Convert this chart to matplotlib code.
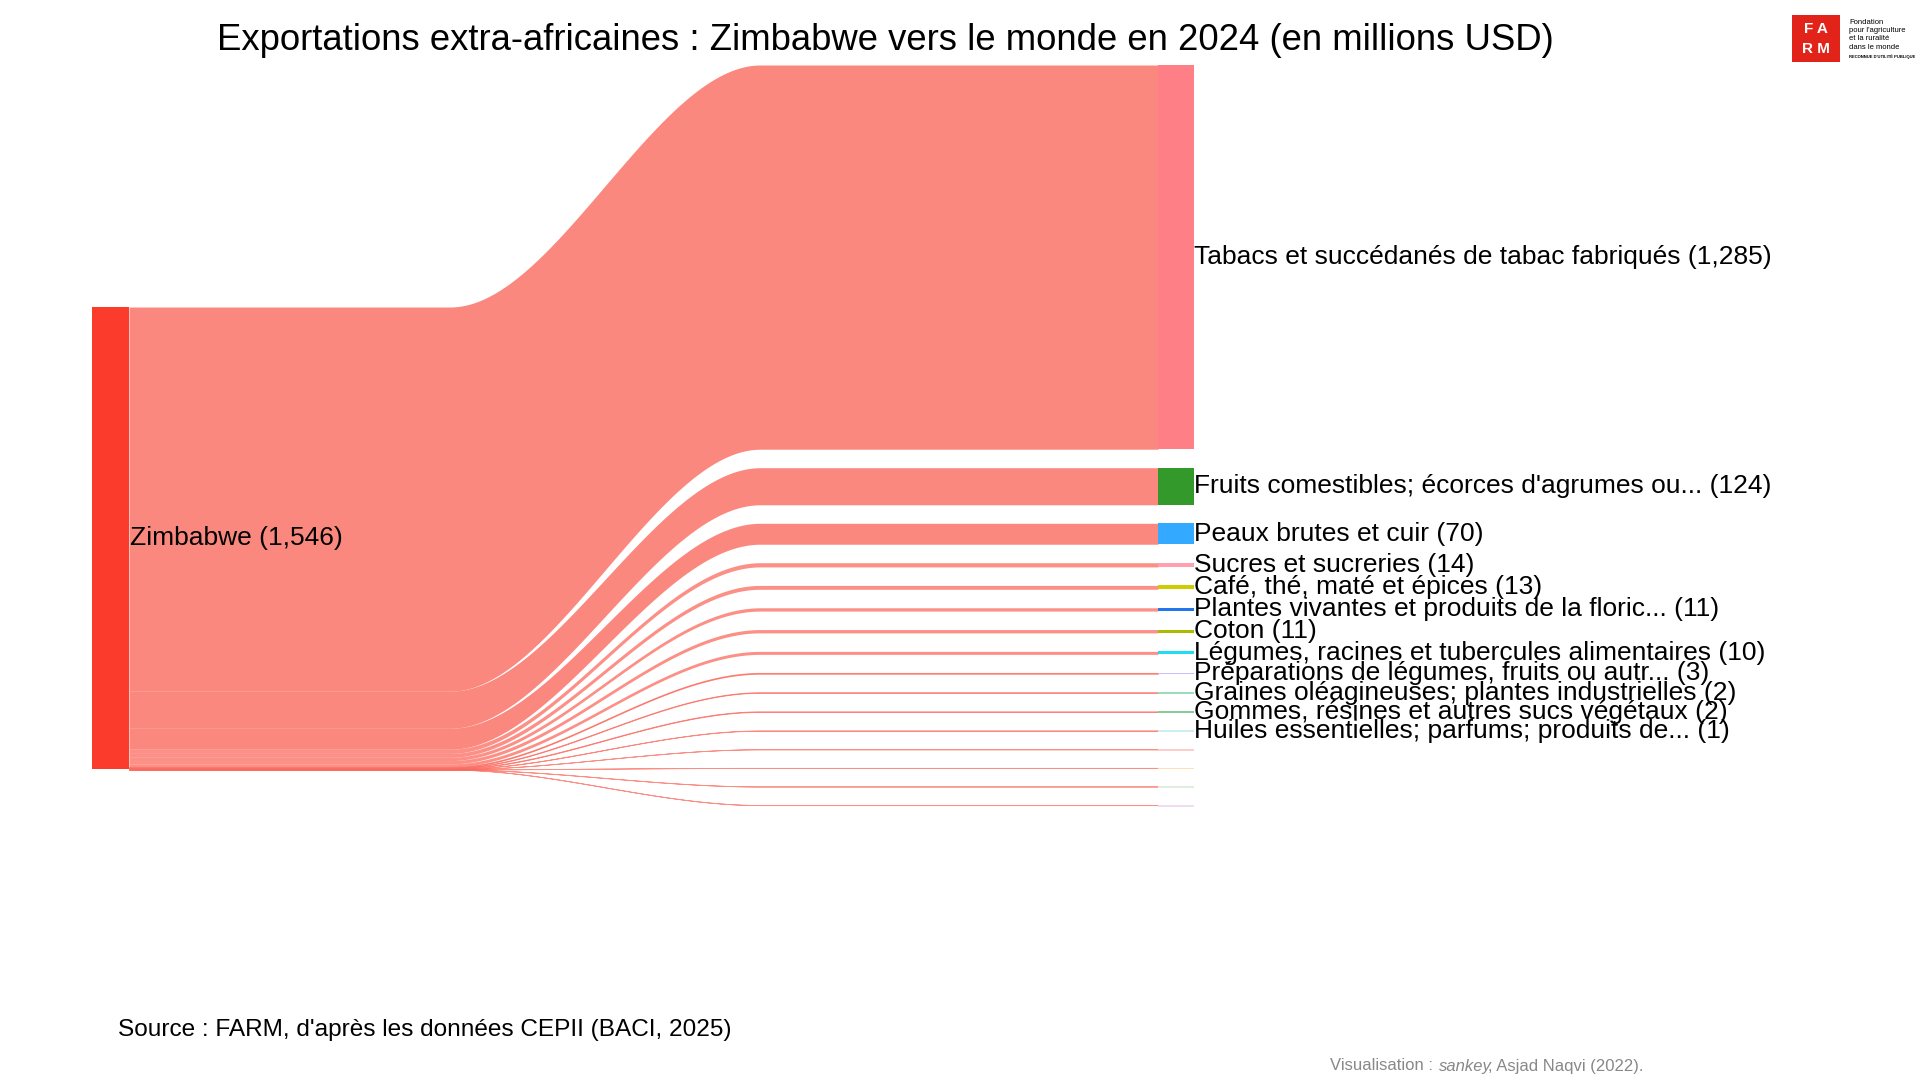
import matplotlib.pyplot as plt
import numpy as np
from matplotlib.patches import Rectangle

plt.rcParams['font.family'] = ['Liberation Sans', 'DejaVu Sans']

# data (millions USD)
source_name = "Zimbabwe"
source_total = 1546
targets = ["Tabacs et succédanés de tabac fabriqués", "Fruits comestibles; écorces d'agrumes ou...",
           "Peaux brutes et cuir", "Sucres et sucreries", "Café, thé, maté et épices",
           "Plantes vivantes et produits de la floric...", "Coton",
           "Légumes, racines et tubercules alimentaires", "Préparations de légumes, fruits ou autr...",
           "Graines oléagineuses; plantes industrielles", "Gommes, résines et autres sucs végétaux",
           "Huiles essentielles; parfums; produits de...", "", "", "", ""]
values = [1285, 124, 70, 14, 13, 11, 11, 10, 3, 2, 2, 1, 0.3, 0.3, 0.3, 0.3]
colors = ["#FF7F86", "#33992A", "#33AAFF", "#FF9FB0", "#CCCC00", "#2277EE", "#AABB00",
          "#22DDEE", "#CCBBFF", "#99DDBB", "#88CC99", "#CCEEEE", "#FFCCCC", "#FFE0B0", "#DDEEDD", "#EEDDEE"]
flow_color = "#FB6A5E"
node_color = "#FB3B2B"

fig = plt.figure(figsize=(19.2, 10.8), dpi=100)
ax = fig.add_axes([0, 0, 1, 1])
ax.set_xlim(0, 1920)
ax.set_ylim(1080, 0)
ax.axis('off')

k = 0.299           # px per unit
gap = 18.5
lx0, lx1 = 92, 129
rx0, rx1 = 1158, 1194
cx0, cx1 = 450, 760

# left node
ly = 307
ax.add_patch(Rectangle((lx0, ly), lx1 - lx0, source_total * k, color=node_color, lw=0))
ax.text(lx1 + 1, ly + source_total * k / 2, f"{source_name} ({source_total:,})",
        fontsize=19, va='center', ha='left')

xs = np.linspace(lx1, rx0, 300)
t = np.clip((xs - cx0) / (cx1 - cx0), 0, 1)
s = t * t * (3 - 2 * t)

ry = 65
for name, v, c in zip(targets, values, colors):
    h = v * k
    top = ly + (ry - ly) * s
    ax.fill_between(xs, top, top + h, color=flow_color, alpha=0.75 if v < 20 else 0.8,
                    lw=0.6 if v < 5 else 0, edgecolor=flow_color)
    ax.add_patch(Rectangle((rx0, ry), rx1 - rx0, max(h, 1.5), color=c, lw=0))
    if name:
        ax.text(rx1, ry + h / 2, f"{name} ({v:,})", fontsize=19, va='center', ha='left')
    ly += h
    ry += h + gap

ax.text(885, 40, "Exportations extra-africaines : Zimbabwe vers le monde en 2024 (en millions USD)",
        fontsize=26.3, ha='center', va='center')
ax.text(118, 1030, "Source : FARM, d'après les données CEPII (BACI, 2025)", fontsize=17.6,
        ha='left', va='center')
ax.text(1330, 1066, "Visualisation : ", fontsize=12, color='#888888', ha='left', va='center')
ax.text(1439, 1066, "sankey", fontsize=12, color='#888888', style='italic', ha='left', va='center')
ax.text(1488, 1066, ", Asjad Naqvi (2022).", fontsize=12, color='#888888', ha='left', va='center')

# logo
ax.add_patch(Rectangle((1792, 15), 48, 47, color='#E2231A', lw=0))
ax.text(1816, 29, "F A", color='white', fontsize=11, fontweight='bold', ha='center', va='center')
ax.text(1816, 49, "R M", color='white', fontsize=11, fontweight='bold', ha='center', va='center')
for i, line in enumerate(["Fondation", "pour l'agriculture", "et la ruralité", "dans le monde"]):
    ax.text(1849, 22 + i * 8.5, line, fontsize=5.5, ha='left', va='center')
ax.text(1849, 57, "RECONNUE D'UTILITÉ PUBLIQUE", fontsize=3, ha='left', va='center', fontweight='bold')

fig.savefig("out.png", dpi=100)
